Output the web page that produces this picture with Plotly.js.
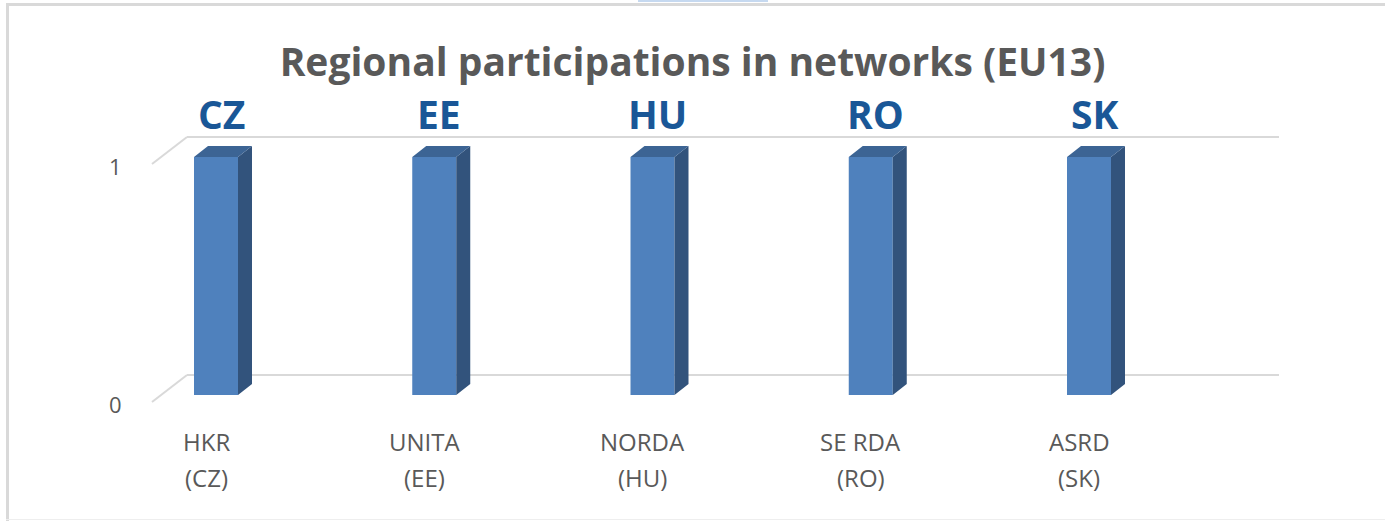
<!DOCTYPE html>
<html>
<head>
<meta charset="utf-8">
<script src="https://cdn.plot.ly/plotly-3.0.1.min.js"></script>
<style>
  html, body { margin: 0; padding: 0; background: #ffffff; }
  #wrap { position: relative; width: 1385px; height: 521px; overflow: hidden; }
  #chart { position: absolute; left: 0; top: 0; width: 1385px; height: 521px; }
  .frame { position: absolute; pointer-events: none; }
</style>
</head>
<body>
<div id="wrap">
  <div id="chart"></div>
  <div class="frame" style="left:6px; top:3px; width:1379px; height:3px; background:#d9d9d9;"></div>
  <div class="frame" style="left:6px; top:3px; width:3px; height:518px; background:#d9d9d9;"></div>
  <div class="frame" style="left:6px; top:519px; width:1379px; height:1px; background:#eeeeee;"></div>
  <div class="frame" style="left:638px; top:0px; width:130px; height:2px; background:#c6d9f0;"></div>
</div>
<script>
// ---- data ----
const regions   = ["HKR", "UNITA", "NORDA", "SE RDA", "ASRD"];
const countries = ["CZ", "EE", "HU", "RO", "SK"];
const values    = [1, 1, 1, 1, 1];
const yTicks    = [0, 1];

// ---- geometry helpers (data units, derived from axis scale) ----
const PX_X = 218.25;            // px per category
const PX_Y = 238;               // px per unit value
const xs = regions.map((_, i) => i);
const barW = 44 / PX_X;
const dX = 14 / PX_X, dY = 11 / PX_Y;           // bar depth
const wallBackX0 = -29 / PX_X, wallBackX1 = 1063 / PX_X, wallDY = 20 / PX_Y;
const wallFrontX = -64 / PX_X, frontDY = -7 / PX_Y;

const colFront = "#4f81bd", colSide = "#32537c", colTop = "#3c6494";
const gridCol = "#d9d9d9";

const traces = [];

// back wall gridlines + floor diagonals (below the bars)
const shapes = [];
yTicks.forEach(v => {
  shapes.push({type: "line", layer: "below", xref: "x", yref: "y",
    x0: wallFrontX, y0: v + frontDY, x1: wallBackX0, y1: v + wallDY,
    line: {color: gridCol, width: 2}});
  shapes.push({type: "line", layer: "below", xref: "x", yref: "y",
    x0: wallBackX0, y0: v + wallDY, x1: wallBackX1, y1: v + wallDY,
    line: {color: gridCol, width: 2}});
});

// front faces
traces.push({type: "bar", x: xs, y: values, width: barW,
  marker: {color: colFront, line: {width: 0}}, hoverinfo: "x+y", showlegend: false});

// side faces
const sx = [], sy = [];
xs.forEach((x, i) => {
  const r = x + barW / 2, v = values[i];
  sx.push(r, r, r + dX, r + dX, r, null);
  sy.push(0, v, v + dY, dY, 0, null);
});
traces.push({type: "scatter", mode: "lines", x: sx, y: sy, fill: "toself",
  fillcolor: colSide, line: {width: 0, color: colSide}, hoverinfo: "skip", showlegend: false});

// top faces
const tx = [], ty = [];
xs.forEach((x, i) => {
  const l = x - barW / 2, r = x + barW / 2, v = values[i];
  tx.push(l, r, r + dX, l + dX, l, null);
  ty.push(v, v, v + dY, v + dY, v, null);
});
traces.push({type: "scatter", mode: "lines", x: tx, y: ty, fill: "toself",
  fillcolor: colTop, line: {width: 0, color: colTop}, hoverinfo: "skip", showlegend: false});

// annotations
const ann = [];
const grey = "#595959";
const fontFam = "Open Sans, Noto Sans, sans-serif";
yTicks.forEach(v => ann.push({x: wallFrontX, y: v + frontDY, xref: "x", yref: "y",
  text: String(v), showarrow: false, xanchor: "center", xshift: -37, yshift: -2,
  font: {family: fontFam, size: 22, color: grey}}));
xs.forEach((x, i) => {
  ann.push({x: x, y: 0, xref: "x", yref: "y", text: regions[i], showarrow: false,
    xanchor: "center", yanchor: "middle", xshift: -10, yshift: -46,
    font: {family: fontFam, size: 24, color: grey}});
  ann.push({x: x, y: 0, xref: "x", yref: "y", text: "(" + countries[i] + ")", showarrow: false,
    xanchor: "center", yanchor: "middle", xshift: -10, yshift: -82,
    font: {family: fontFam, size: 24, color: grey}});
  ann.push({x: x, y: values[i], xref: "x", yref: "y", text: "<b>" + countries[i] + "</b>",
    showarrow: false, xanchor: "center", yanchor: "middle", xshift: 5, yshift: 44,
    font: {family: fontFam, size: 39, color: "#1a5797"}});
});

const layout = {
  width: 1385, height: 521,
  margin: {l: 110, r: 85, t: 90, b: 31, pad: 0},
  paper_bgcolor: "#ffffff", plot_bgcolor: "#ffffff",
  title: {text: "<b>Regional participations in networks (EU13)</b>",
    x: 0.5, xref: "container", xanchor: "center", xshift: 0,
    y: 1 - 62 / 521, yref: "container", yanchor: "middle",
    font: {family: fontFam, size: 39, color: grey}},
  xaxis: {range: [-106 / PX_X, 1084 / PX_X], visible: false, fixedrange: true},
  yaxis: {range: [-95 / PX_Y, 305 / PX_Y], visible: false, fixedrange: true},
  shapes: shapes,
  annotations: ann,
  showlegend: false
};

Plotly.newPlot("chart", traces, layout, {displayModeBar: false, staticPlot: true});
</script>
</body>
</html>
